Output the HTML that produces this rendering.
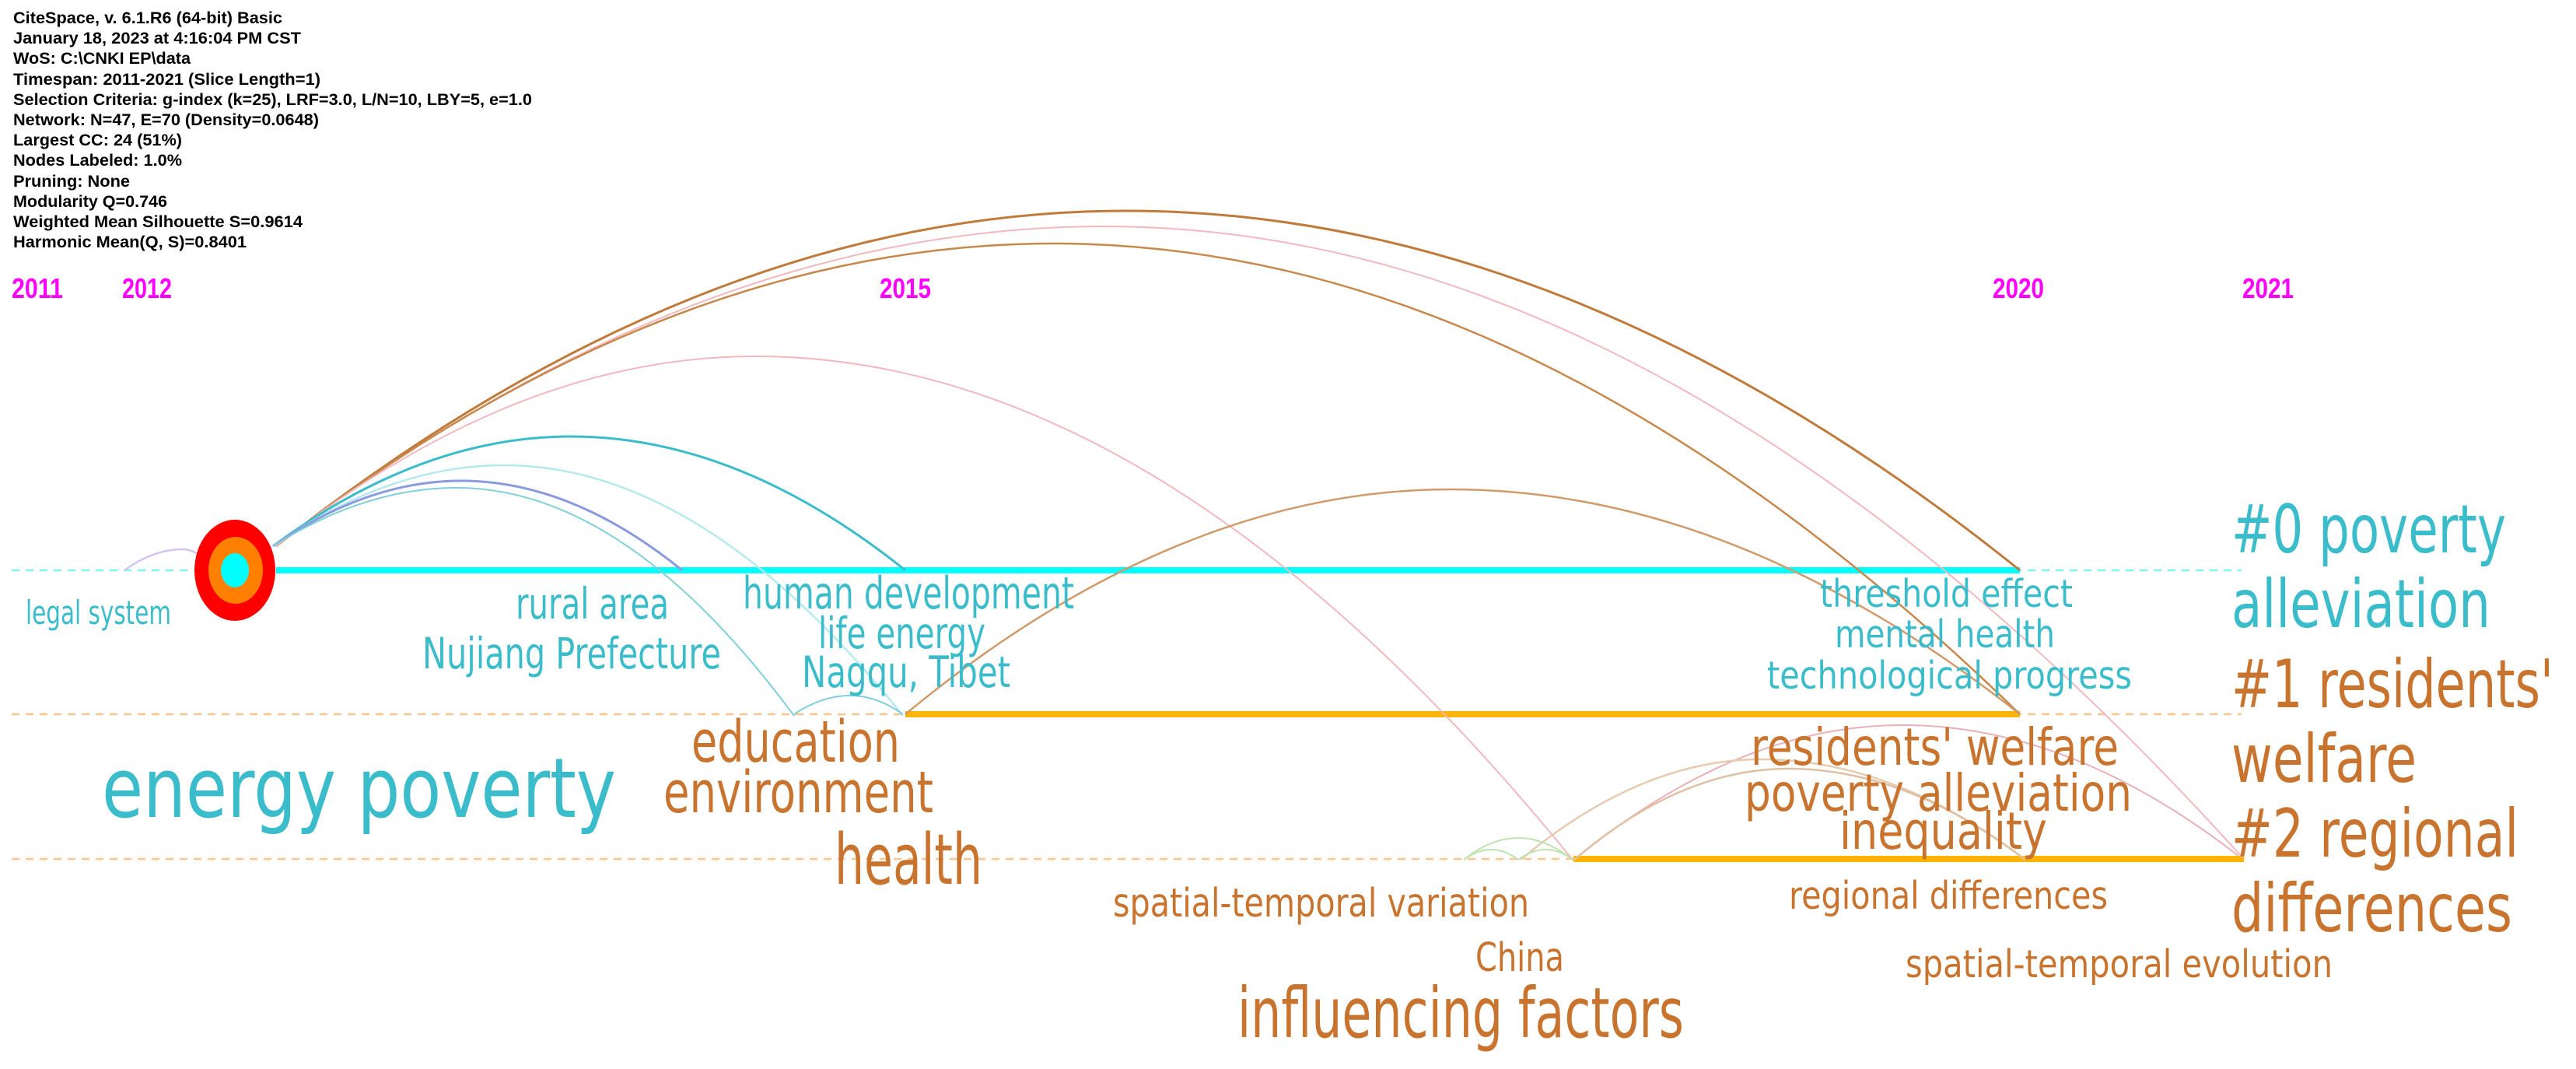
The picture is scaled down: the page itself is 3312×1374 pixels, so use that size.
<!DOCTYPE html>
<html><head><meta charset="utf-8"><style>
html,body{margin:0;padding:0;background:#fff;}
svg{display:block;}
.h{font-family:"Liberation Sans",sans-serif;font-weight:bold;font-size:21px;fill:#000;}
.y{font-family:"Liberation Sans",sans-serif;font-weight:bold;font-size:36px;fill:#ff00ff;}
.c{font-family:"DejaVu Sans","Liberation Sans",sans-serif;fill:#3bbccb;}
.o{font-family:"DejaVu Sans","Liberation Sans",sans-serif;fill:#c8742e;}
</style></head><body>
<svg width="3312" height="1374" viewBox="0 0 3312 1374" xmlns="http://www.w3.org/2000/svg">
<rect width="3312" height="1374" fill="#fff"/>
<g class="h">
<text x="17" y="30" textLength="346" lengthAdjust="spacingAndGlyphs">CiteSpace, v. 6.1.R6 (64-bit) Basic</text>
<text x="17" y="56" textLength="370" lengthAdjust="spacingAndGlyphs">January 18, 2023 at 4:16:04 PM CST</text>
<text x="17" y="82" textLength="228" lengthAdjust="spacingAndGlyphs">WoS: C:\CNKI EP\data</text>
<text x="17" y="109" textLength="395" lengthAdjust="spacingAndGlyphs">Timespan: 2011-2021 (Slice Length=1)</text>
<text x="17" y="135" textLength="667" lengthAdjust="spacingAndGlyphs">Selection Criteria: g-index (k=25), LRF=3.0, L/N=10, LBY=5, e=1.0</text>
<text x="17" y="161" textLength="393" lengthAdjust="spacingAndGlyphs">Network: N=47, E=70 (Density=0.0648)</text>
<text x="17" y="187" textLength="217" lengthAdjust="spacingAndGlyphs">Largest CC: 24 (51%)</text>
<text x="17" y="213" textLength="217" lengthAdjust="spacingAndGlyphs">Nodes Labeled: 1.0%</text>
<text x="17" y="240" textLength="150" lengthAdjust="spacingAndGlyphs">Pruning: None</text>
<text x="17" y="266" textLength="198" lengthAdjust="spacingAndGlyphs">Modularity Q=0.746</text>
<text x="17" y="292" textLength="372" lengthAdjust="spacingAndGlyphs">Weighted Mean Silhouette S=0.9614</text>
<text x="17" y="318" textLength="300" lengthAdjust="spacingAndGlyphs">Harmonic Mean(Q, S)=0.8401</text>
</g>
<g class="y">
<text x="15" y="383" textLength="66" lengthAdjust="spacingAndGlyphs">2011</text>
<text x="157" y="383" textLength="64" lengthAdjust="spacingAndGlyphs">2012</text>
<text x="1131" y="383" textLength="66" lengthAdjust="spacingAndGlyphs">2015</text>
<text x="2562" y="383" textLength="66" lengthAdjust="spacingAndGlyphs">2020</text>
<text x="2883" y="383" textLength="66" lengthAdjust="spacingAndGlyphs">2021</text>
</g>
<line x1="15" y1="733" x2="2882" y2="733" stroke="#7ff4f4" stroke-width="2.5" stroke-dasharray="10,8"/>
<line x1="15" y1="918" x2="2882" y2="918" stroke="#fcc590" stroke-width="2.5" stroke-dasharray="10,8"/>
<line x1="15" y1="1104" x2="2882" y2="1104" stroke="#fcc590" stroke-width="2.5" stroke-dasharray="10,8"/>
<line x1="355" y1="733" x2="2597" y2="733" stroke="#00ffff" stroke-width="8"/>
<line x1="1164" y1="918" x2="2597" y2="918" stroke="#ffb400" stroke-width="8"/>
<line x1="2023" y1="1104" x2="2885" y2="1104" stroke="#ffb400" stroke-width="8"/>
<g fill="none">
<path d="M355,702 Q901,271 1448,271 Q2022,271 2597,733" stroke="#c07a3a" stroke-width="3"/>
<path d="M355,702 Q887,291 1419,291 Q2151,291 2883,1102" stroke="#f2b8c0" stroke-width="2"/>
<path d="M355,702 Q855,313 1355,313 Q1976,313 2597,918" stroke="#c8884c" stroke-width="2.5"/>
<path d="M355,702 Q663,458 971,458 Q1496,458 2022,1105" stroke="#f2b8c0" stroke-width="2"/>
<path d="M351,702 Q542,561 734,561 Q949,561 1164,733" stroke="#3bbccb" stroke-width="3"/>
<path d="M351,702 Q500,598 648,598 Q904,598 1161,920" stroke="#b5e9ee" stroke-width="2.5"/>
<path d="M351,702 Q472,618 593,618 Q735,618 877,733" stroke="#8a9ade" stroke-width="3"/>
<path d="M351,702 Q469,627 587,627 Q804,627 1021,920" stroke="#7fd0d8" stroke-width="2"/>
<path d="M1164,918 Q1514,629 1865,629 Q2231,629 2597,918" stroke="#d09a6a" stroke-width="2.5"/>
<path d="M160,733 Q197,706 235,706 Q244,706 254,712" stroke="#d6c4f0" stroke-width="2.5"/>
<path d="M1021,918 Q1057,894 1093,894 Q1127,894 1161,918" stroke="#7fd0d8" stroke-width="2"/>
<path d="M2024,1105 Q2235,932 2446,932 Q2662,932 2878,1100" stroke="#e8b0b8" stroke-width="2"/>
<path d="M1955,1105 Q2110,976 2264,976 Q2434,976 2604,1105" stroke="#e6cbb0" stroke-width="2.5"/>
<path d="M2024,1105 Q2161,988 2299,988 Q2451,988 2604,1105" stroke="#dfc0a4" stroke-width="2.5"/>
<path d="M1882,1105 Q1917,1077 1952,1077 Q1987,1077 2022,1105" stroke="#bfe3b0" stroke-width="2"/>
<path d="M1882,1105 Q1900,1092 1917,1092 Q1935,1092 1952,1105" stroke="#bfe3b0" stroke-width="2"/>
<path d="M1952,1105 Q1970,1092 1987,1092 Q2005,1092 2022,1105" stroke="#bfe3b0" stroke-width="2"/>
</g>
<ellipse cx="302" cy="733" rx="52" ry="65" fill="#ff0000"/>
<ellipse cx="303" cy="733" rx="35" ry="43" fill="#ff8000"/>
<ellipse cx="302" cy="733" rx="18" ry="22" fill="#00ffff"/>
<g class="c">
<text x="33" y="802" font-size="42" textLength="187" lengthAdjust="spacingAndGlyphs">legal system</text>
<text x="663" y="795" font-size="55" textLength="197" lengthAdjust="spacingAndGlyphs">rural area</text>
<text x="543" y="859" font-size="55" textLength="384" lengthAdjust="spacingAndGlyphs">Nujiang Prefecture</text>
<text x="955" y="782" font-size="57" textLength="426" lengthAdjust="spacingAndGlyphs">human development</text>
<text x="1052" y="833" font-size="55" textLength="215" lengthAdjust="spacingAndGlyphs">life energy</text>
<text x="1031" y="883" font-size="55" textLength="268" lengthAdjust="spacingAndGlyphs">Nagqu, Tibet</text>
<text x="131" y="1050" font-size="106" textLength="661" lengthAdjust="spacingAndGlyphs">energy poverty</text>
<text x="2340" y="780" font-size="49" textLength="325" lengthAdjust="spacingAndGlyphs">threshold effect</text>
<text x="2359" y="832" font-size="49" textLength="283" lengthAdjust="spacingAndGlyphs">mental health</text>
<text x="2272" y="885" font-size="49" textLength="469" lengthAdjust="spacingAndGlyphs">technological progress</text>
<text x="2869" y="710" font-size="86" textLength="353" lengthAdjust="spacingAndGlyphs">#0 poverty</text>
<text x="2869" y="806" font-size="86" textLength="333" lengthAdjust="spacingAndGlyphs">alleviation</text>
</g>
<g class="o">
<text x="889" y="979" font-size="74" textLength="268" lengthAdjust="spacingAndGlyphs">education</text>
<text x="853" y="1044" font-size="74" textLength="347" lengthAdjust="spacingAndGlyphs">environment</text>
<text x="1073" y="1136" font-size="90" textLength="190" lengthAdjust="spacingAndGlyphs">health</text>
<text x="1431" y="1178" font-size="51" textLength="535" lengthAdjust="spacingAndGlyphs">spatial-temporal variation</text>
<text x="1897" y="1248" font-size="51" textLength="114" lengthAdjust="spacingAndGlyphs">China</text>
<text x="1591" y="1333" font-size="89" textLength="574" lengthAdjust="spacingAndGlyphs">influencing factors</text>
<text x="2251" y="983" font-size="66" textLength="473" lengthAdjust="spacingAndGlyphs">residents' welfare</text>
<text x="2243" y="1042" font-size="66" textLength="498" lengthAdjust="spacingAndGlyphs">poverty alleviation</text>
<text x="2365" y="1091" font-size="66" textLength="267" lengthAdjust="spacingAndGlyphs">inequality</text>
<text x="2300" y="1168" font-size="49" textLength="410" lengthAdjust="spacingAndGlyphs">regional differences</text>
<text x="2450" y="1256" font-size="49" textLength="549" lengthAdjust="spacingAndGlyphs">spatial-temporal evolution</text>
<text x="2869" y="909" font-size="86" textLength="414" lengthAdjust="spacingAndGlyphs">#1 residents'</text>
<text x="2869" y="1005" font-size="86" textLength="238" lengthAdjust="spacingAndGlyphs">welfare</text>
<text x="2869" y="1101" font-size="86" textLength="369" lengthAdjust="spacingAndGlyphs">#2 regional</text>
<text x="2869" y="1197" font-size="86" textLength="361" lengthAdjust="spacingAndGlyphs">differences</text>
</g>
</svg>
</body></html>
